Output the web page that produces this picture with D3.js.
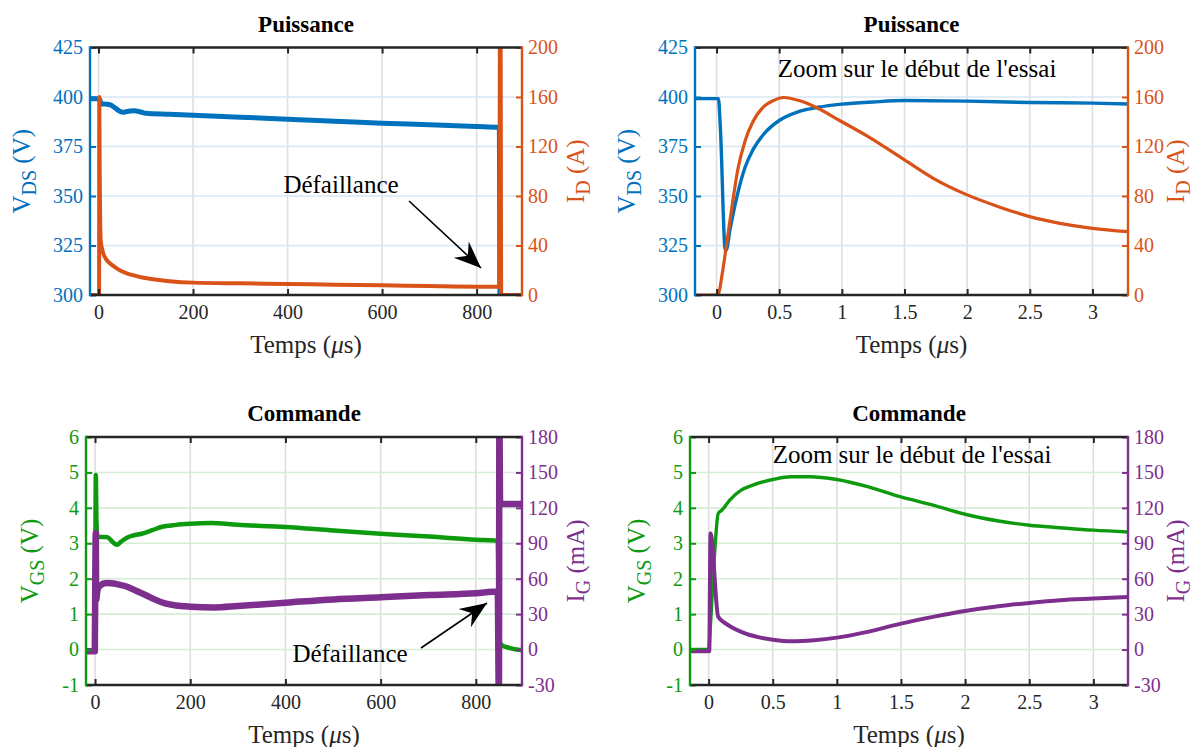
<!DOCTYPE html>
<html><head><meta charset="utf-8">
<script src="https://cdn.jsdelivr.net/npm/d3@7"></script>
<style>
html,body{margin:0;padding:0;background:#fff;}
svg{display:block;font-family:"Liberation Serif","Times New Roman",serif;}
svg text{font-family:"Liberation Serif","Times New Roman",serif;}
</style></head>
<body>
<svg id="chart" width="1200" height="747"></svg>
<script>
// ---------- DATA ----------
// Panel 1 : Puissance (full test), time in µs
const p1VdsTime = [-18, 0, 3, 5, 15, 25, 35, 45, 52, 60, 75, 90, 100, 150, 200, 300, 400, 500, 600, 700, 800, 848, 849.5, 851, 896];
const p1Vds     = [399.1, 399.1, 398.5, 396.6, 396.4, 396.0, 394.5, 392.8, 392.3, 392.7, 393.0, 392.4, 391.8, 391.3, 390.8, 389.8, 388.8, 387.8, 386.8, 386.0, 385.1, 384.6, 290, 290, 290];
const p1IdTime  = [-18, 1.2, 1.7, 2.5, 3.5, 4.6, 7, 10, 16, 24, 35, 45, 60, 73, 90, 116, 150, 200, 300, 400, 500, 600, 700, 800, 848, 849.5, 850.5, 852, 896];
const p1Id      = [0, 0, 160, 100, 62, 44.5, 38, 33.7, 29, 25.6, 22.5, 20, 17.5, 16, 14.3, 12.7, 11.2, 10, 9.4, 8.9, 8.3, 7.8, 7.2, 6.7, 6.7, 230, 230, 0, 0];

// Panel 2 : Puissance (zoom), time in µs
const p2VdsTime = [-0.17, 0.015, 0.03, 0.07, 0.077, 0.107, 0.169, 0.23, 0.29, 0.383, 0.506, 0.659, 0.81, 1.0, 1.25, 1.5, 2.0, 2.5, 3.0, 3.284];
const p2Vds     = [399.2, 399.2, 385, 322.7, 322.7, 332.9, 351.4, 364.9, 373.3, 381.7, 388.4, 392.7, 394.8, 396.4, 397.5, 398.2, 397.9, 397.2, 396.9, 396.5];
const p2IdTime  = [-0.17, 0.0, 0.015, 0.046, 0.077, 0.123, 0.169, 0.23, 0.29, 0.383, 0.45, 0.536, 0.659, 0.78, 1.0, 1.21, 1.5, 1.73, 2.0, 2.25, 2.5, 2.74, 3.0, 3.284];
const p2Id      = [0, 0, 1, 17.5, 39, 71.4, 101, 125.3, 140, 152.8, 157, 159.6, 157.1, 152.3, 140, 128, 109.2, 94.3, 80.9, 71.4, 63.3, 57.9, 53.9, 51.2];

// Panel 3 : Commande (full test)
const p3VgsTime = [-19, 0, 0.8, 1.6, 3, 5, 10, 26, 36, 42, 46, 55, 66, 80, 98, 120, 139, 170, 200, 243, 300, 400, 501, 600, 702, 800, 846, 849, 855, 870, 885, 897];
const p3Vgs     = [-0.02, -0.02, 3, 4.93, 3.6, 3.19, 3.18, 3.17, 3.05, 2.98, 2.96, 3.05, 3.15, 3.22, 3.27, 3.37, 3.46, 3.52, 3.55, 3.57, 3.52, 3.46, 3.36, 3.27, 3.19, 3.10, 3.07, 0.25, 0.12, 0.05, 0.0, -0.02];
const p3IgTime  = [-19, -0.5, 0.5, 1.5, 2.5, 5, 10, 24, 34, 50, 66, 85, 106, 125, 147, 170, 200, 251, 300, 400, 501, 600, 702, 800, 846, 848.5, 849.5, 851, 855, 897];
const p3Ig      = [-1.4, -1.4, 60, 98.7, 42, 50, 54, 56.3, 56.2, 55, 53.4, 50, 46.2, 42.5, 39.1, 37.3, 36.3, 35.7, 36.9, 39.7, 42.5, 44.3, 46.2, 47.7, 49.1, -45, 200, 123.3, 123.3, 123.3];

// Panel 4 : Commande (zoom)
const p4VgsTime = [-0.145, 0.0, 0.015, 0.045, 0.075, 0.105, 0.165, 0.254, 0.344, 0.5, 0.643, 0.79, 1.0, 1.24, 1.5, 1.75, 2.0, 2.26, 2.5, 2.74, 3.0, 3.27];
const p4Vgs     = [0.0, 0.0, 0.73, 2.62, 3.84, 3.94, 4.22, 4.50, 4.64, 4.80, 4.88, 4.88, 4.80, 4.60, 4.31, 4.08, 3.82, 3.63, 3.51, 3.44, 3.37, 3.32];
const p4IgTime  = [-0.145, 0.005, 0.015, 0.075, 0.135, 0.254, 0.404, 0.5, 0.643, 0.823, 1.0, 1.24, 1.5, 1.75, 2.0, 2.26, 2.5, 2.74, 3.0, 3.27];
const p4Ig      = [-1.5, -1.5, 98.3, 27.7, 22, 15, 10.1, 8.4, 7.0, 7.9, 10.1, 15, 22, 27.7, 32.7, 36.7, 39.5, 41.8, 43.2, 44.6];

// Tick labels
const xTicksFull = [0, 200, 400, 600, 800];
const xTicksZoom = [0, 0.5, 1, 1.5, 2, 2.5, 3];
const yTicksVds = [300, 325, 350, 375, 400, 425];
const yTicksId  = [0, 40, 80, 120, 160, 200];
const yTicksVgs = [-1, 0, 1, 2, 3, 4, 5, 6];
const yTicksIg  = [-30, 0, 30, 60, 90, 120, 150, 180];

const titles = ["Puissance", "Puissance", "Commande", "Commande"];
const xLabel = "Temps (";
const annotFail = "Défaillance";
const annotZoom = "Zoom sur le début de l'essai";

// ---------- STYLE ----------
const BLUE = "#0072BD", ORANGE = "#D95319", GREEN = "#0E9A0E", PURPLE = "#7E2F8E", DARK = "#262626";
const FONT = '"Liberation Serif", "Times New Roman", serif';
const fmt = d => String(d);  // plain hyphen for negatives

const svg = d3.select("#chart");
const defs = svg.append("defs");

function zip(t, v){ return t.map((d,i)=>[d, v[i]]); }

function panel(cfg, idx){
  const x = d3.scaleLinear().domain(cfg.xDom).range([cfg.l, cfg.r]);
  const yL = d3.scaleLinear().domain(cfg.yLDom).range([cfg.b, cfg.t]);
  const yR = d3.scaleLinear().domain(cfg.yRDom).range([cfg.b, cfg.t]);
  const g = svg.append("g");
  const clipId = "clip" + idx;
  defs.append("clipPath").attr("id", clipId).append("rect")
    .attr("x", cfg.l).attr("y", cfg.t).attr("width", cfg.r - cfg.l).attr("height", cfg.b - cfg.t);

  // grid
  g.append("g").selectAll("line").data(cfg.xTicks).join("line")
    .attr("x1", d=>x(d)).attr("x2", d=>x(d)).attr("y1", cfg.t).attr("y2", cfg.b)
    .attr("stroke", "#dedede").attr("stroke-width", 1.6);
  g.append("g").selectAll("line").data(cfg.yLTicks).join("line")
    .attr("x1", cfg.l).attr("x2", cfg.r).attr("y1", d=>yL(d)).attr("y2", d=>yL(d))
    .attr("stroke", cfg.gridColor).attr("stroke-width", 1.6);

  // series
  const lineL = d3.line().x(d=>x(d[0])).y(d=>yL(d[1])).curve(d3.curveMonotoneX);
  const lineR = d3.line().x(d=>x(d[0])).y(d=>yR(d[1])).curve(d3.curveMonotoneX);
  const cg = g.append("g").attr("clip-path", `url(#${clipId})`);
  cg.append("path").datum(zip(cfg.sL.t, cfg.sL.v)).attr("d", lineL)
    .attr("fill","none").attr("stroke", cfg.cL).attr("stroke-width", cfg.wL).attr("stroke-linejoin","round");
  cg.append("path").datum(zip(cfg.sR.t, cfg.sR.v)).attr("d", lineR)
    .attr("fill","none").attr("stroke", cfg.cR).attr("stroke-width", cfg.wR).attr("stroke-linejoin","round");

  // axes (ticks inward)
  const axB = d3.axisBottom(x).tickValues(cfg.xTicks).tickSize(-6).tickPadding(12).tickFormat(fmt);
  const axT = d3.axisTop(x).tickValues(cfg.xTicks).tickSize(-6).tickFormat("");
  const axL = d3.axisLeft(yL).tickValues(cfg.yLTicks).tickSize(-6).tickPadding(12).tickFormat(fmt);
  const axR = d3.axisRight(yR).tickValues(cfg.yRTicks).tickSize(-6).tickPadding(12).tickFormat(fmt);

  function style(sel, color){
    sel.attr("font-family", FONT).attr("font-size", 20);
    sel.select(".domain").remove();
    sel.selectAll(".tick line").attr("stroke", color).attr("stroke-width", 2);
    sel.selectAll(".tick text").attr("fill", color).style("font-size","20px")
      .style("font-family", FONT);
  }
  const gb = g.append("g").attr("transform", `translate(0,${cfg.b})`).call(axB); style(gb, DARK);
  const gt = g.append("g").attr("transform", `translate(0,${cfg.t})`).call(axT); style(gt, DARK);
  const gl = g.append("g").attr("transform", `translate(${cfg.l},0)`).call(axL); style(gl, cfg.cL);
  const gr = g.append("g").attr("transform", `translate(${cfg.r},0)`).call(axR); style(gr, cfg.cR);
  gb.selectAll(".tick text").attr("dy", "0.71em").attr("y", 10);
  gl.selectAll(".tick text").attr("x", -7);
  gr.selectAll(".tick text").attr("x", 6);

  // box
  g.append("line").attr("x1", cfg.l).attr("x2", cfg.r).attr("y1", cfg.t).attr("y2", cfg.t).attr("stroke", DARK).attr("stroke-width", 2.4);
  g.append("line").attr("x1", cfg.l).attr("x2", cfg.r).attr("y1", cfg.b).attr("y2", cfg.b).attr("stroke", DARK).attr("stroke-width", 2.4);
  g.append("line").attr("x1", cfg.l).attr("x2", cfg.l).attr("y1", cfg.t-1.2).attr("y2", cfg.b+1.2).attr("stroke", cfg.cL).attr("stroke-width", 2.4);
  g.append("line").attr("x1", cfg.r).attr("x2", cfg.r).attr("y1", cfg.t-1.2).attr("y2", cfg.b+1.2).attr("stroke", cfg.cR).attr("stroke-width", 2.4);

  const cx = (cfg.l + cfg.r) / 2, cy = (cfg.t + cfg.b) / 2;
  // title
  g.append("text").attr("x", cx).attr("y", cfg.t - 16).attr("text-anchor","middle")
    .style("font-size","23px").style("font-weight","bold").attr("fill","#000").text(cfg.title);
  // x label
  const xl = g.append("text").attr("x", cx).attr("y", cfg.b + 58).attr("text-anchor","middle")
    .style("font-size","25px").attr("fill", DARK);
  xl.append("tspan").text(xLabel);
  xl.append("tspan").style("font-style","italic").text("\u03BC");
  xl.append("tspan").text("s)");

  // y labels
  function ylab(xpos, color, main, sub, unit){
    const t = g.append("text").attr("transform", `translate(${xpos},${cy}) rotate(-90)`)
      .attr("text-anchor","middle").attr("fill", color).style("font-size","25px");
    t.append("tspan").text(main);
    t.append("tspan").attr("dy", 6).style("font-size","20px").text(sub);
    t.append("tspan").attr("dy", -6).text(" " + unit);
  }
  ylab(cfg.l - cfg.yLabOffL, cfg.cL, "V", cfg.subL, cfg.unitL);
  ylab(cfg.r + cfg.yLabOffR, cfg.cR, "I", cfg.subR, cfg.unitR);

  return {x, yL, yR, g};
}

function arrow(g, x1, y1, x2, y2){
  g.append("line").attr("x1", x1).attr("y1", y1).attr("x2", x2).attr("y2", y2)
    .attr("stroke","#000").attr("stroke-width", 1.6);
  const ang = Math.atan2(y2-y1, x2-x1);
  const L = 27, W = 11, N = 18;
  const ux = Math.cos(ang), uy = Math.sin(ang), px = -uy, py = ux;
  const bx = x2 - ux*L, by = y2 - uy*L;
  const nx = x2 - ux*N, ny = y2 - uy*N;
  g.append("path").attr("d", `M${x2},${y2} L${bx+px*W},${by+py*W} L${nx},${ny} L${bx-px*W},${by-py*W} Z`)
    .attr("fill","#000");
}

const P1 = panel({l:90, r:522, t:47.5, b:295, xDom:[-18, 896], yLDom:[300,425], yRDom:[0,200],
  xTicks:xTicksFull, yLTicks:yTicksVds, yRTicks:yTicksId, gridColor:"#d7e7f3",
  sL:{t:p1VdsTime, v:p1Vds}, sR:{t:p1IdTime, v:p1Id}, cL:BLUE, cR:ORANGE, wL:5, wR:4,
  title:titles[0], subL:"DS", unitL:"(V)", subR:"D", unitR:"(A)", yLabOffL:60, yLabOffR:62}, 1);
P1.g.append("text").attr("x", 341).attr("y", 193).attr("text-anchor","middle").style("font-size","25px").text(annotFail);
arrow(P1.g, 409, 201, 481, 268);

const P2 = panel({l:695, r:1128, t:47.5, b:295, xDom:[-0.172, 3.284], yLDom:[300,425], yRDom:[0,200],
  xTicks:xTicksZoom, yLTicks:yTicksVds, yRTicks:yTicksId, gridColor:"#d7e7f3",
  sL:{t:p2VdsTime, v:p2Vds}, sR:{t:p2IdTime, v:p2Id}, cL:BLUE, cR:ORANGE, wL:3.4, wR:3.2,
  title:titles[1], subL:"DS", unitL:"(V)", subR:"D", unitR:"(A)", yLabOffL:60, yLabOffR:56}, 2);
P2.g.append("text").attr("x", 917).attr("y", 77).attr("text-anchor","middle").style("font-size","25px").text(annotZoom);

const P3 = panel({l:86, r:522, t:437, b:685, xDom:[-19, 897], yLDom:[-1,6], yRDom:[-30,180],
  xTicks:xTicksFull, yLTicks:yTicksVgs, yRTicks:yTicksIg, gridColor:"#d6ecd6",
  sL:{t:p3VgsTime, v:p3Vgs}, sR:{t:p3IgTime, v:p3Ig}, cL:GREEN, cR:PURPLE, wL:4.5, wR:6.5,
  title:titles[2], subL:"GS", unitL:"(V)", subR:"G", unitR:"(mA)", yLabOffL:48, yLabOffR:62}, 3);
P3.g.append("text").attr("x", 350).attr("y", 662).attr("text-anchor","middle").style("font-size","25px").text(annotFail);
arrow(P3.g, 421, 648, 487, 603);

const P4 = panel({l:690, r:1128, t:437, b:685, xDom:[-0.145, 3.27], yLDom:[-1,6], yRDom:[-30,180],
  xTicks:xTicksZoom, yLTicks:yTicksVgs, yRTicks:yTicksIg, gridColor:"#d6ecd6",
  sL:{t:p4VgsTime, v:p4Vgs}, sR:{t:p4IgTime, v:p4Ig}, cL:GREEN, cR:PURPLE, wL:3.4, wR:4,
  title:titles[3], subL:"GS", unitL:"(V)", subR:"G", unitR:"(mA)", yLabOffL:45, yLabOffR:56}, 4);
P4.g.append("text").attr("x", 912).attr("y", 463).attr("text-anchor","middle").style("font-size","25px").text(annotZoom);
</script>
</body></html>
